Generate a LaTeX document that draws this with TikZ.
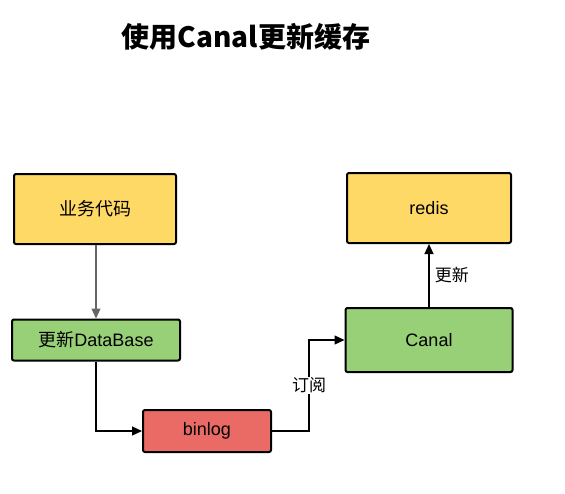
\documentclass[tikz,border=0pt]{standalone}
\usepackage{fontspec}
\setmainfont{Liberation Sans}
\newfontfamily\cjk{Noto Sans CJK SC}
\usetikzlibrary{arrows.meta}
\begin{document}
\begin{tikzpicture}[x=1pt,y=-1pt,
  box/.style={draw=black,line width=2pt,rounded corners=2pt,inner sep=0pt,font=\fontsize{18}{20}\selectfont},
  yel/.style={box,fill=yellowbox},
  grn/.style={box,fill=greenbox},
  redb/.style={box,fill=redbox},
  conn/.style={line width=1.2pt,-{Triangle[length=10pt,width=9pt]}},
  lbl/.style={font=\cjk\fontsize{17}{19}\selectfont}]
\definecolor{yellowbox}{HTML}{FFD966}
\definecolor{greenbox}{HTML}{97D077}
\definecolor{redbox}{HTML}{EA6B66}
\useasboundingbox (0,0) rectangle (565,493);
\node[font=\cjk\bfseries\fontsize{28}{31}\selectfont] (title) at (246,37) {使用Canal更新缓存};
\node[yel,minimum width=162pt,minimum height=70pt] (biz) at (95,209) {\cjk 业务代码};
\node[grn,minimum width=168pt,minimum height=41pt] (db) at (96,340) {{\cjk 更新}DataBase};
\node[redb,minimum width=128pt,minimum height=42pt] (binlog) at (207,431) {binlog};
\node[grn,minimum width=167pt,minimum height=64pt] (canal) at (429,340) {Canal};
\node[yel,minimum width=164pt,minimum height=70pt] (redis) at (429,208) {redis};
\draw[conn,draw=gray!80!black] (biz.south -| db.north) -- (db.north);
\draw[conn] (db.south) |- (binlog.west);
\coordinate (bend) at (309,431);
\draw[conn] (binlog.east) -- (bend) |- node[pos=0.25,fill=white,lbl,inner sep=1pt] {订阅} (canal.west);
\draw[conn] (canal.north) -- node[right,lbl,xshift=2pt] {更新} (redis.south);
\end{tikzpicture}
\end{document}
